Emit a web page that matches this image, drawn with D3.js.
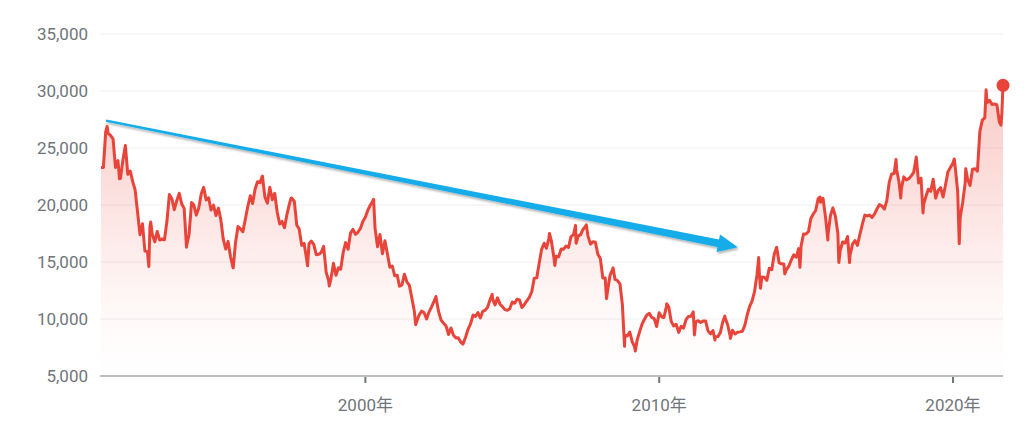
<html>
<meta charset="utf-8">
<script src="https://d3js.org/d3.v7.min.js"></script>
<style>
  body { margin: 0; background: #fff; }
  text { font-family: Roboto, "Noto Sans CJK JP", sans-serif; }
</style>
<body>
<div id="chart"></div>
<script>
  var WIDTH = 1024;
  var HEIGHT = 444;

  // month-end closes, one row per year starting 1991
  var firstYear = 1991;
  var closes = [
    [23293, 26409, 26292, 26111, 25790, 23291, 23900, 22336, 23916, 25222, 22687, 22984],
    [22023, 21339, 19346, 17391, 18348, 15952, 15910, 18061, 17399, 16767, 17684, 16925],
    [17024, 16953, 18591, 20919, 20552, 19590, 20380, 21027, 20106, 19703, 16408, 17417],
    [20229, 19997, 19112, 19725, 20974, 21552, 20449, 20629, 19564, 19990, 19076, 19723],
    [18650, 17053, 16140, 16807, 15437, 14517, 16678, 18117, 17913, 17655, 18744, 19868],
    [20813, 20125, 21407, 22041, 21956, 22531, 20693, 20167, 21556, 20467, 21020, 19361],
    [18330, 18557, 18003, 19151, 20069, 20605, 20331, 18229, 17888, 16459, 16636, 15259],
    [16628, 16831, 16527, 15641, 15671, 15830, 16379, 14108, 13406, 13564, 14884, 13842],
    [14499, 14368, 15837, 16702, 16112, 17530, 17862, 17437, 17605, 17942, 18558, 18934],
    [19540, 19960, 20337, 17974, 16332, 17411, 15728, 16861, 15747, 14539, 14649, 13786],
    [13843, 12884, 12999, 13934, 13262, 12969, 11861, 10714, 9775, 10367, 10697, 10543],
    [9998, 10588, 11025, 11493, 11764, 10622, 9878, 9619, 9383, 8640, 9216, 8579],
    [8340, 8363, 7973, 7831, 8425, 9083, 9563, 10344, 10219, 10560, 10101, 10677],
    [10784, 11041, 11715, 11762, 11236, 11858, 11326, 11082, 10824, 10771, 10899, 11489],
    [11388, 11740, 11669, 11009, 11277, 11584, 11900, 12414, 13574, 13607, 14872, 16111],
    [16650, 16205, 17060, 16906, 15467, 15505, 15457, 16141, 16128, 16399, 16274, 17226],
    [17383, 17604, 17288, 17400, 17876, 18138, 17249, 16569, 16786, 16738, 15681, 15308],
    [13592, 13603, 12526, 13850, 14339, 13481, 13377, 13073, 11260, 8577, 8512, 8860],
    [7994, 7568, 8110, 8828, 9523, 9958, 10357, 10493, 10133, 10035, 9346, 10546],
    [10198, 10126, 11090, 11057, 9769, 9383, 9537, 8824, 9369, 9202, 9937, 10229],
    [10238, 10624, 9755, 9850, 9694, 9816, 9833, 8955, 8700, 8988, 8435, 8455],
    [8803, 9723, 10084, 9521, 8543, 9007, 8695, 8840, 8870, 8928, 9446, 10395],
    [11139, 11560, 12398, 13861, 13775, 13677, 13668, 13389, 14456, 14328, 15662, 16291],
    [14915, 14841, 14828, 14304, 14632, 15162, 15621, 15425, 16174, 16414, 17460, 17451],
    [17674, 18798, 19207, 19520, 20563, 20236, 20585, 18890, 17388, 19083, 19747, 19034],
    [17518, 16027, 16759, 16666, 17235, 15576, 16569, 16887, 16450, 17425, 18308, 19114],
    [19041, 19119, 18909, 19197, 19651, 20033, 19925, 19646, 20356, 22012, 22725, 22765],
    [23098, 22068, 21454, 22468, 22202, 22305, 22554, 22865, 24120, 21920, 22351, 20015],
    [20773, 21385, 21206, 22259, 20601, 21276, 21522, 20704, 21756, 22927, 23294, 23657],
    [23205, 21143, 18917, 20194, 21878, 22288, 21710, 23140, 23185, 22977, 26434, 27444],
    [27663, 28966, 29179, 28813, 28860, 28792, 27284, 28090]
  ];

  // intra-month highs / lows that show in the daily line
  var extraDates = [
    "1991-01-01", "1991-03-18", "1991-08-19", "1992-08-18", "1992-09-10", "1993-11-29",
    "1995-07-03", "1996-06-26", "1997-06-20", "1998-01-12", "1998-10-09", "2000-04-12",
    "2001-09-17", "2002-05-27", "2003-04-28", "2004-04-26", "2006-04-07", "2006-06-13",
    "2007-02-26", "2007-03-05", "2007-07-09", "2008-03-17", "2008-06-06", "2008-10-27",
    "2009-03-10", "2010-04-05", "2011-03-15", "2011-11-25", "2012-03-27", "2012-06-04",
    "2013-05-22", "2013-06-13", "2014-04-11", "2014-10-17", "2015-06-24", "2015-09-29",
    "2016-02-12", "2016-06-24", "2018-01-23", "2018-03-23", "2018-10-02", "2018-12-25",
    "2020-01-17", "2020-03-19", "2020-06-08", "2021-02-16", "2021-08-20", "2021-09-14"
  ];
  var extraValues = [
    23300, 26900, 22300, 14600, 18500, 16300,
    14485, 22500, 20600, 14664, 12900, 20500,
    9500, 11979, 7800, 12163, 17500, 14700,
    18215, 16642, 18261, 11787, 14489, 7600,
    7200, 11339, 8605, 8160, 10255, 8295,
    15400, 12700, 13960, 14532, 20700, 16930,
    14953, 14952, 24000, 20617, 24200, 19300,
    24041, 16600, 23178, 30100, 27013, 30500
  ];

  var yTicks = [5000, 10000, 15000, 20000, 25000, 30000, 35000];
  var xTickYears = [2000, 2010, 2020];

  // arrow annotation, in data space
  var arrowFrom = { date: "1991-03-05", value: 27400 };
  var arrowTo = { date: "2012-09-05", value: 16300 };

  var parse = d3.timeParse("%Y-%m-%d");
  var data = [];
  closes.forEach(function (row, i) {
    row.forEach(function (v, m) {
      data.push({ date: new Date(firstYear + i, m + 1, 0), value: v });
    });
  });
  extraDates.forEach(function (d, i) {
    data.push({ date: parse(d), value: extraValues[i] });
  });
  data.sort(function (a, b) { return a.date - b.date; });
  data = data.filter(function (d) { return d.date <= parse("2021-09-14"); });

  var LEFT = 101, RIGHT = 1003, TOP = 34, BOTTOM = 376;

  var x = d3.scaleTime()
    .domain([parse("1991-01-01"), parse("2021-09-14")])
    .range([LEFT, RIGHT]);
  var y = d3.scaleLinear().domain([5000, 35000]).range([BOTTOM, TOP]);

  var svg = d3.select("#chart").append("svg")
    .attr("width", WIDTH).attr("height", HEIGHT);

  var defs = svg.append("defs");
  var grad = defs.append("linearGradient")
    .attr("id", "areaFill")
    .attr("gradientUnits", "userSpaceOnUse")
    .attr("x1", 0).attr("x2", 0)
    .attr("y1", y(30500)).attr("y2", BOTTOM);
  grad.append("stop").attr("offset", "0%").attr("stop-color", "#ea4335").attr("stop-opacity", 0.28);
  grad.append("stop").attr("offset", "75%").attr("stop-color", "#ea4335").attr("stop-opacity", 0.04);
  grad.append("stop").attr("offset", "100%").attr("stop-color", "#ea4335").attr("stop-opacity", 0.0);

  var shadow = defs.append("filter").attr("id", "shadow")
    .attr("x", "-5%").attr("y", "-50%").attr("width", "110%").attr("height", "200%");
  shadow.append("feDropShadow")
    .attr("dx", 1).attr("dy", 2).attr("stdDeviation", 1.2)
    .attr("flood-color", "#000").attr("flood-opacity", 0.3);

  // gridlines
  svg.append("g").selectAll("line")
    .data(yTicks.slice(1))
    .enter().append("line")
    .attr("x1", LEFT - 1).attr("x2", RIGHT)
    .attr("y1", function (d) { return y(d); })
    .attr("y2", function (d) { return y(d); })
    .attr("stroke", "#eeeeee").attr("stroke-width", 1);

  // y labels
  svg.append("g").selectAll("text")
    .data(yTicks)
    .enter().append("text")
    .attr("x", 88)
    .attr("y", function (d) { return y(d) + 6; })
    .attr("text-anchor", "end")
    .style("font-size", "17px")
    .style("fill", "#70757a")
    .text(function (d) { return d3.format(",")(d); });

  // area + line
  var area = d3.area()
    .x(function (d) { return x(d.date); })
    .y0(BOTTOM)
    .y1(function (d) { return y(d.value); });
  svg.append("path").datum(data)
    .attr("d", area)
    .attr("fill", "url(#areaFill)");

  var line = d3.line()
    .x(function (d) { return x(d.date); })
    .y(function (d) { return y(d.value); });
  svg.append("path").datum(data)
    .attr("d", line)
    .attr("fill", "none")
    .attr("stroke", "#e8443a")
    .attr("stroke-width", 3)
    .attr("stroke-linejoin", "round");

  // baseline axis
  svg.append("line")
    .attr("x1", LEFT - 1).attr("x2", RIGHT)
    .attr("y1", BOTTOM).attr("y2", BOTTOM)
    .attr("stroke", "#bdbdbd").attr("stroke-width", 2);

  var xt = svg.append("g").selectAll("g")
    .data(xTickYears)
    .enter().append("g")
    .attr("transform", function (d) { return "translate(" + x(new Date(d, 0, 1)) + ",0)"; });
  xt.append("line")
    .attr("y1", BOTTOM + 1).attr("y2", BOTTOM + 7)
    .attr("stroke", "#70757a").attr("stroke-width", 2);
  xt.append("text")
    .attr("y", 411)
    .attr("text-anchor", "middle")
    .style("font-size", "17px")
    .style("fill", "#70757a")
    .text(function (d) { return d + "年"; });

  // end dot
  var last = data[data.length - 1];
  svg.append("circle")
    .attr("cx", x(last.date)).attr("cy", y(last.value))
    .attr("r", 6.5)
    .attr("fill", "#e8443a");

  // tapered arrow
  var x0 = x(parse(arrowFrom.date)), y0 = y(arrowFrom.value);
  var x1 = x(parse(arrowTo.date)), y1 = y(arrowTo.value);
  var dx = x1 - x0, dy = y1 - y0, len = Math.sqrt(dx * dx + dy * dy);
  var ux = dx / len, uy = dy / len, px = -uy, py = ux;
  var headLen = 20, headHalf = 9, w0 = 1.1, w1 = 3.8;
  var bx = x1 - ux * headLen, by = y1 - uy * headLen;
  var pts = [
    [x0 + px * w0, y0 + py * w0],
    [bx + px * w1, by + py * w1],
    [bx + px * headHalf, by + py * headHalf],
    [x1, y1],
    [bx - px * headHalf, by - py * headHalf],
    [bx - px * w1, by - py * w1],
    [x0 - px * w0, y0 - py * w0]
  ];
  svg.append("path")
    .attr("d", "M" + pts.map(function (p) { return p.join(","); }).join("L") + "Z")
    .attr("fill", "#14acea")
    .attr("filter", "url(#shadow)");
</script>
</body>
</html>
